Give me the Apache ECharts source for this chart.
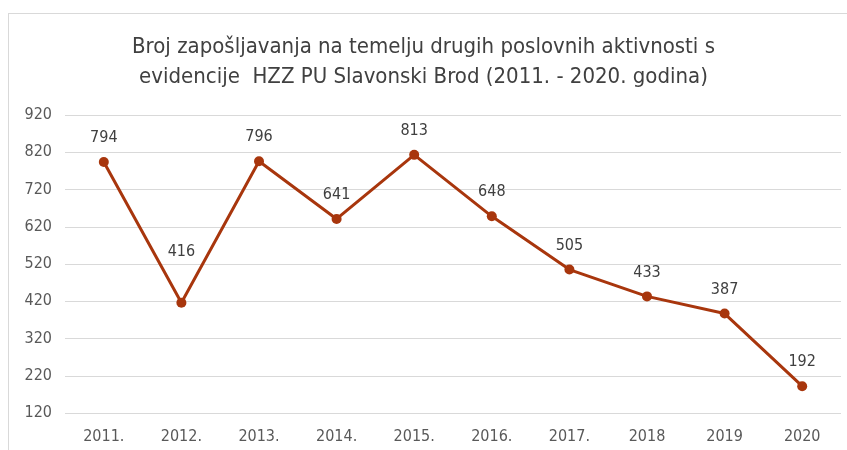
<!DOCTYPE html>
<html><head><meta charset="utf-8">
<script src="https://cdn.jsdelivr.net/npm/echarts@6/dist/echarts.min.js"></script>
<style>html,body{margin:0;padding:0;background:#fff}#c{width:847px;height:450px}
#frame{position:absolute;left:8px;top:13px;width:845px;height:445px;border:1px solid #d9d9d9;pointer-events:none}</style>
</head><body><div id="c"></div><div id="frame"></div>
<script>
const categories = ['2011.','2012.','2013.','2014.','2015.','2016.','2017.','2018','2019','2020'];
const values = [794,416,796,641,813,648,505,433,387,192];
const titleLines = ['Broj zapošljavanja na temelju drugih poslovnih aktivnosti s','evidencije  HZZ PU Slavonski Brod (2011. - 2020. godina)'];
const yMin = 120, yMax = 920, yStep = 100;
const font = '"Liberation Sans Narrow", "DejaVu Sans Condensed", sans-serif';
const chart = echarts.init(document.getElementById('c'));
const seriesData = values.map((v, i) => i === 1 ? {value: v, label: {distance: 38}} : v);
chart.setOption({
  animation:false,
  title:{text:titleLines.join('\n'),left:'center',top:27,textStyle:{fontFamily:font,fontSize:22,fontWeight:'normal',color:'#404040',lineHeight:30}},
  grid:{left:65,right:6,top:115,bottom:37},
  xAxis:{type:'category',data:categories,boundaryGap:true,axisLine:{show:false},axisTick:{show:false},
    axisLabel:{fontFamily:font,fontSize:16,color:'#595959',margin:16}},
  yAxis:{type:'value',min:yMin,max:yMax,interval:yStep,axisLine:{show:false},axisTick:{show:false},
    splitLine:{lineStyle:{color:'#d9d9d9',width:1}},
    axisLabel:{fontFamily:font,fontSize:16,color:'#595959',margin:13}},
  series:[{type:'line',data:seriesData,symbol:'circle',symbolSize:10,
    lineStyle:{color:'#A8360D',width:3},itemStyle:{color:'#A8360D'},
    label:{show:true,position:'top',distance:11,fontFamily:font,fontSize:16,color:'#404040'}}]
});
</script></body></html>
